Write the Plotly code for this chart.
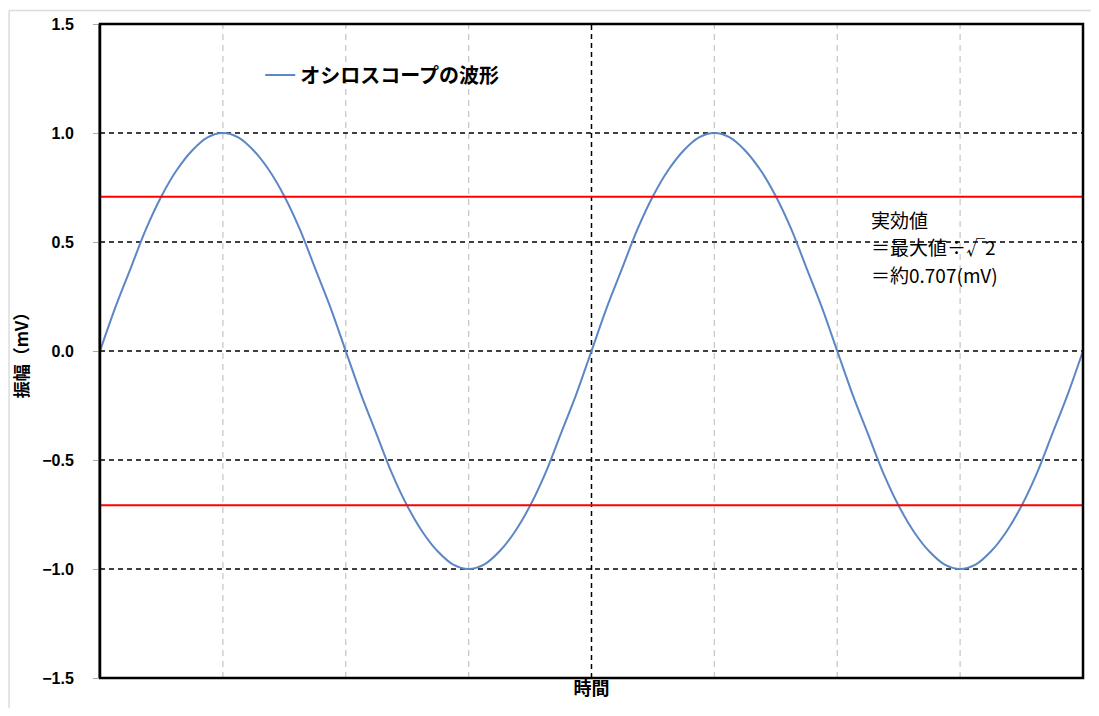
import plotly.graph_objects as go

# Data (time in quarter-period units, amplitude in mV)
time_pts = [0, 0.125, 0.25, 0.375, 0.5, 0.625, 0.75, 0.875, 1, 1.125, 1.25, 1.375, 1.5, 1.625, 1.75, 1.875,
            2, 2.125, 2.25, 2.375, 2.5, 2.625, 2.75, 2.875, 3, 3.125, 3.25, 3.375, 3.5, 3.625, 3.75, 3.875,
            4, 4.125, 4.25, 4.375, 4.5, 4.625, 4.75, 4.875, 5, 5.125, 5.25, 5.375, 5.5, 5.625, 5.75, 5.875,
            6, 6.125, 6.25, 6.375, 6.5, 6.625, 6.75, 6.875, 7, 7.125, 7.25, 7.375, 7.5, 7.625, 7.75, 7.875, 8]
amplitude = [0, 0.20, 0.38, 0.56, 0.71, 0.83, 0.92, 0.98, 1.0, 0.98, 0.92, 0.83, 0.71, 0.56, 0.38, 0.20,
             0, -0.20, -0.38, -0.56, -0.71, -0.83, -0.92, -0.98, -1.0, -0.98, -0.92, -0.83, -0.71, -0.56, -0.38, -0.20,
             0, 0.20, 0.38, 0.56, 0.71, 0.83, 0.92, 0.98, 1.0, 0.98, 0.92, 0.83, 0.71, 0.56, 0.38, 0.20,
             0, -0.20, -0.38, -0.56, -0.71, -0.83, -0.92, -0.98, -1.0, -0.98, -0.92, -0.83, -0.71, -0.56, -0.38, -0.20, 0]
rms_level = 0.707
y_ticks = [-1.5, -1.0, -0.5, 0.0, 0.5, 1.0, 1.5]
minor_x = [1, 2, 3, 5, 6, 7]
major_x = [4]
note_lines = ["実効値", "＝最大値÷√2", "＝約0.707(mV)"]

FONT = "Noto Sans CJK JP"

fig = go.Figure()

# vertical gray dashed grid
for xv in minor_x:
    fig.add_shape(type="line", xref="x", yref="paper", x0=xv, x1=xv, y0=0, y1=1,
                  line=dict(color="#c8c8c8", width=1.3, dash="6px,5px"), layer="below")
for xv in major_x:
    fig.add_shape(type="line", xref="x", yref="paper", x0=xv, x1=xv, y0=0, y1=1,
                  line=dict(color="#000000", width=1.5, dash="5px,4px"), layer="below")
# horizontal black dashed grid
for yv in y_ticks[1:-1]:
    fig.add_shape(type="line", xref="paper", yref="y", x0=0, x1=1, y0=yv, y1=yv,
                  line=dict(color="#000000", width=1.5, dash="5px,4px"), layer="below")

# red RMS lines
for yv in [rms_level, -rms_level]:
    fig.add_shape(type="line", xref="paper", yref="y", x0=0, x1=1, y0=yv, y1=yv,
                  line=dict(color="#ff0000", width=2))

fig.add_trace(go.Scatter(x=time_pts, y=amplitude, mode="lines", line_shape="spline",
                         line=dict(color="#5b87c5", width=2),
                         name="<b>オシロスコープの波形</b>"))

# plot border
fig.add_shape(type="rect", xref="paper", yref="paper", x0=0, x1=1, y0=0, y1=1,
              line=dict(color="#000000", width=2.5))
# outer chart border (top and left visible)
fig.add_shape(type="line", xref="paper", yref="paper", x0=-0.0925, x1=1.02, y0=1.0205, y1=1.0205,
              line=dict(color="#dcdcdc", width=1.5))
fig.add_shape(type="line", xref="paper", yref="paper", x0=-0.0925, x1=-0.0925, y0=-0.06, y1=1.0205,
              line=dict(color="#dcdcdc", width=1.5))

for text, yp in zip(note_lines, [0.701, 0.660, 0.617]):
    fig.add_annotation(xref="paper", yref="paper", x=0.782, y=yp, xanchor="left", yanchor="middle",
                       align="left", showarrow=False, text=text,
                       font=dict(family=FONT, size=19, color="#000000"))

fig.update_layout(
    width=1083, height=700,
    margin=dict(l=92, r=8, t=14, b=30),
    paper_bgcolor="white", plot_bgcolor="white",
    font=dict(family=FONT, color="#000000"),
    showlegend=True,
    legend=dict(x=0.163, y=0.922, xanchor="left", yanchor="middle", bgcolor="rgba(0,0,0,0)",
                font=dict(family=FONT, size=20, color="#000000")),
    xaxis=dict(range=[0, 8], showgrid=False, zeroline=False, showticklabels=False, ticks="",
               showline=False,
               title=dict(text="<b>時間</b>", font=dict(family=FONT, size=18), standoff=4)),
    yaxis=dict(range=[-1.5, 1.5], tickvals=y_ticks,
               ticktext=[f"<b>{v:.1f}</b>".replace("-", "−") for v in y_ticks],
               showgrid=False, zeroline=False, showline=True, linecolor="#888888", linewidth=2,
               ticks="outside", ticklen=5, tickcolor="#aaaaaa", ticklabelstandoff=16,
               tickfont=dict(family="Liberation Sans", size=16, color="#000000"),
               title=dict(text="<b>振幅（mV）</b>", font=dict(family=FONT, size=17), standoff=14)),
)

fig.write_html("out.html")
